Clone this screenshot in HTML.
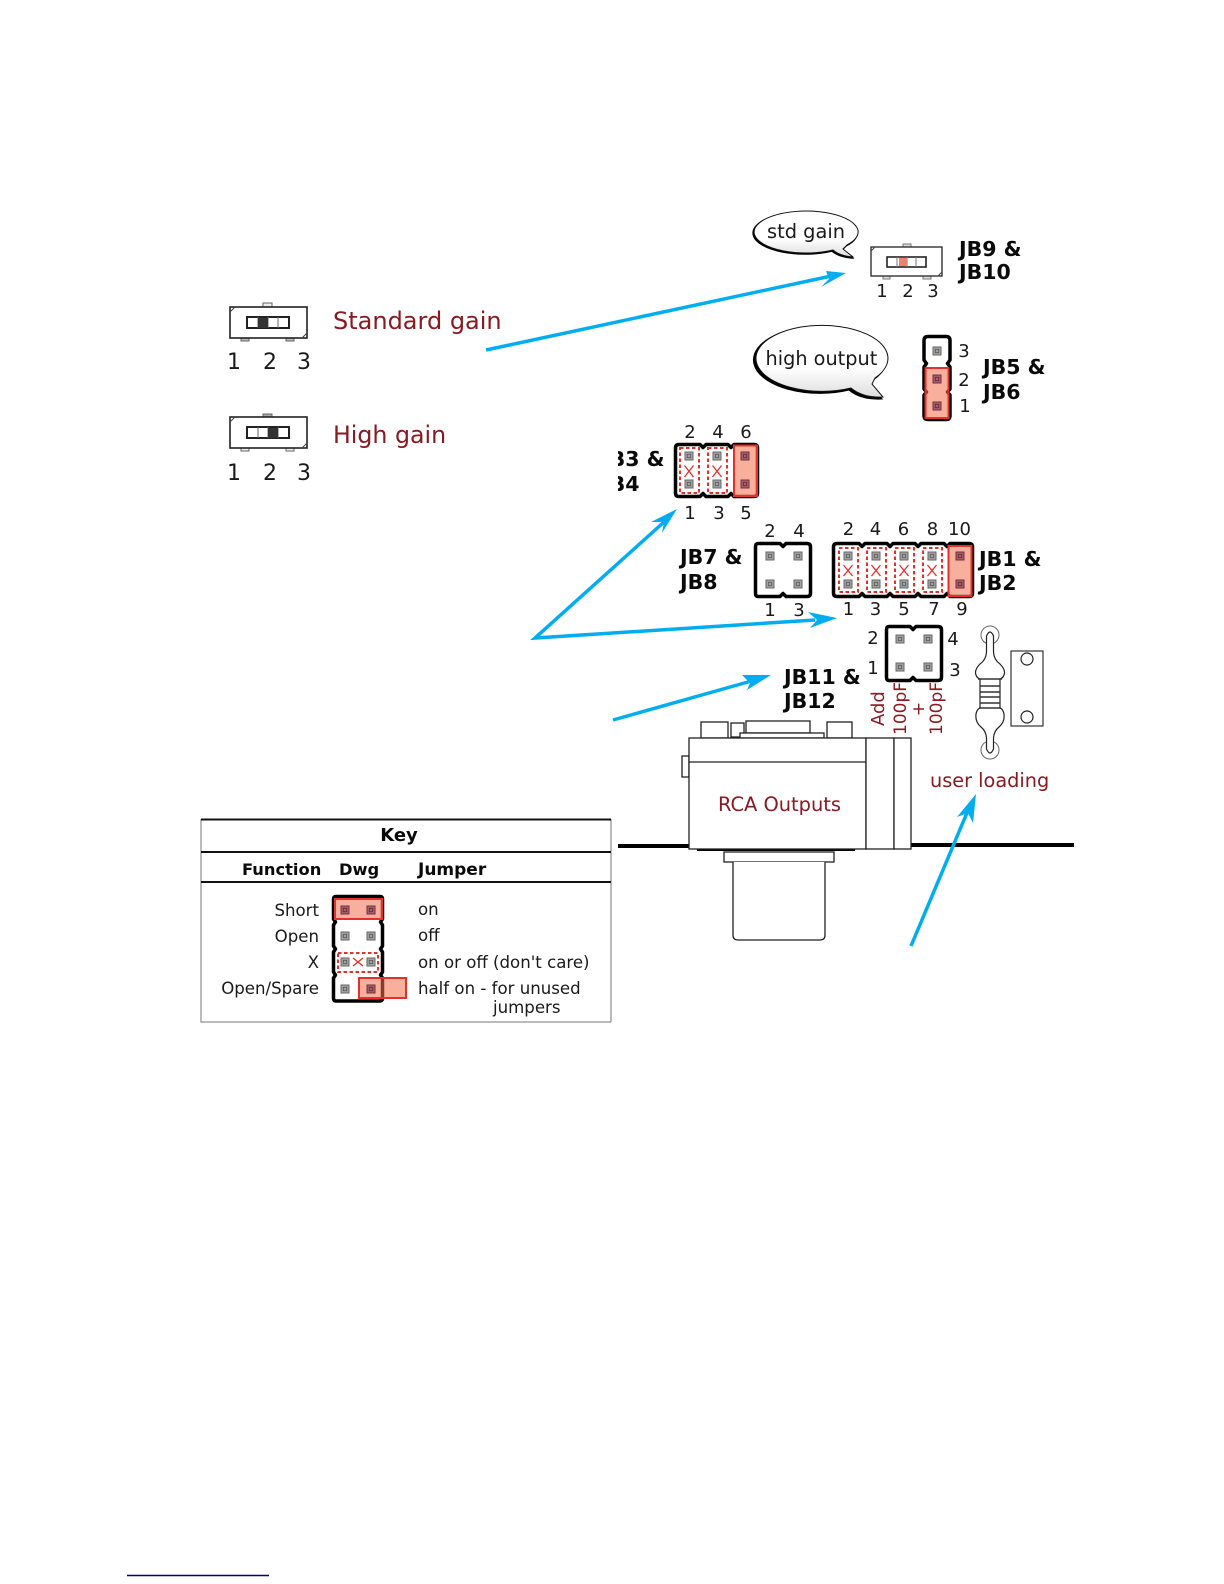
<!DOCTYPE html>
<html><head><meta charset="utf-8"><title>Jumper settings</title>
<style>
html,body{margin:0;padding:0;background:#fff}
svg{display:block}
text{font-family:"DejaVu Sans","Liberation Sans",sans-serif}
.n{font-size:18px;fill:#1a1a1a;text-anchor:middle}
.n2{font-size:22px;fill:#1a1a1a;text-anchor:middle}
.b{font-size:20.5px;font-weight:bold;fill:#0a0a0a}
.r{fill:#8a1a22}
.j{fill:#fff;stroke:#000;stroke-width:3.5;stroke-linejoin:round}
.o{fill:#f2704c;fill-opacity:.55;stroke:#e2302c;stroke-width:2}
.d{fill:none;stroke:#e2302c;stroke-width:2;stroke-dasharray:3.5 2.5}
.x{fill:none;stroke:#e2302c;stroke-width:1.3}
.l{fill:#fff;stroke:#222;stroke-width:1.3}
.a{fill:none;stroke:#00aeef;stroke-width:3.5}
.h{fill:#00aeef}
.k{font-size:16.6px;fill:#1a1a1a}
.kb{font-size:16.3px;font-weight:bold;fill:#0a0a0a}
</style></head><body>
<svg width="1224" height="1584" viewBox="0 0 1224 1584" xmlns="http://www.w3.org/2000/svg">
<defs>
<g id="p"><rect x="-4" y="-4" width="8" height="8" fill="#a4a4a4" stroke="#666" stroke-width="1"/><rect x="-1.7" y="-1.7" width="3.4" height="3.4" fill="none" stroke="#555" stroke-width=".8"/></g>
<g id="q"><rect x="-4" y="-4" width="8" height="8" fill="#a8606a" stroke="#703040" stroke-width="1"/><rect x="-1.7" y="-1.7" width="3.4" height="3.4" fill="none" stroke="#602838" stroke-width=".8"/></g>
<linearGradient id="g" x1="0" y1="0" x2="0" y2="1"><stop offset="0" stop-color="#fff"/><stop offset=".6" stop-color="#fff"/><stop offset="1" stop-color="#ddd"/></linearGradient>
<clipPath id="c"><rect x="618" y="440" width="60" height="60"/></clipPath>
<g id="sw">
<rect x="0" y="0" width="77" height="31" fill="#fff" stroke="#222" stroke-width="1.6"/>
<path d="M0,5 L5,0 M77,26 L72,31" stroke="#444" stroke-width="1"/>
<rect x="17" y="10" width="42" height="11" fill="#fff" stroke="#222" stroke-width="2"/>
<path d="M28,10V21M38,10V21M48,10V21" stroke="#666" stroke-width="1"/>
</g>
</defs>

<!-- left switches -->
<rect x="263" y="303" width="9" height="4" fill="#eee" stroke="#666"/>
<rect x="241" y="338" width="8" height="3" fill="#bbb" stroke="#666"/>
<rect x="286" y="338" width="8" height="3" fill="#bbb" stroke="#666"/>
<use href="#sw" x="230" y="307"/>
<rect x="258" y="318" width="10" height="10" fill="#333"/>
<text class="n2" x="234" y="369">1</text><text class="n2" x="270" y="369">2</text><text class="n2" x="304" y="369">3</text>
<text class="r" x="333" y="329" font-size="24">Standard gain</text>

<rect x="263" y="414" width="9" height="4" fill="#aaa" stroke="#666"/>
<rect x="241" y="448" width="8" height="3" fill="#eee" stroke="#666"/>
<rect x="286" y="448" width="8" height="3" fill="#eee" stroke="#666"/>
<use href="#sw" x="230" y="417"/>
<rect x="268" y="428" width="10" height="10" fill="#333"/>
<text class="n2" x="234" y="480">1</text><text class="n2" x="270" y="480">2</text><text class="n2" x="304" y="480">3</text>
<text class="r" x="333" y="443" font-size="23.7">High gain</text>

<!-- std gain bubble -->
<path d="M833,250A52,21 0 1 1 847,245L843,249L853,257Q840,256 833,250Z" fill="#000" transform="translate(-1,1)" stroke="#000" stroke-width="1.5"/>
<path d="M833,250A52,21 0 1 1 847,245L843,249L853,257Q840,256 833,250Z" fill="url(#g)" stroke="#111" stroke-width="1"/>
<text x="767" y="238" font-size="19.4" fill="#1a1a1a">std gain</text>

<!-- JB9 -->
<rect x="903" y="244" width="8" height="3" fill="#ddd" stroke="#777"/>
<rect x="883" y="276" width="7" height="3" fill="#ddd" stroke="#777"/>
<rect x="923" y="276" width="8" height="3" fill="#ddd" stroke="#777"/>
<rect x="871" y="247" width="71" height="29" fill="#fff" stroke="#222" stroke-width="1.3"/>
<path d="M871,251L875,247M942,272L938,276" stroke="#444" stroke-width="1"/>
<rect x="887" y="257" width="39" height="10" fill="#fff" stroke="#222" stroke-width="1.6"/>
<path d="M897,257V267M907,257V267M916,257V267" stroke="#777" stroke-width="1"/>
<rect x="899" y="258" width="8" height="8" fill="#f2806c"/>
<text class="n" x="882" y="297">1</text><text class="n" x="908" y="297">2</text><text class="n" x="933" y="297">3</text>
<text class="b" x="959" y="256">JB9 &amp;</text><text class="b" x="959" y="279">JB10</text>

<!-- high output bubble -->
<path d="M851,388A66,33 0 1 1 875,378L872,384L883,397Q863,398 851,388Z" fill="#000" stroke="#000" stroke-width="2" transform="translate(-2,1.5)"/>
<path d="M851,388A66,33 0 1 1 875,378L872,384L883,397Q863,398 851,388Z" fill="url(#g)" stroke="#111" stroke-width="1"/>
<text x="765.5" y="365" font-size="19.3" fill="#1a1a1a">high output</text>

<!-- JB5 -->
<path class="j" d="M928,336.500H946Q950,336.500 950,340.500V360L947.500,363.500L950,367V389L947.500,392L950,395V415.500Q950,419.500 946,419.500H928Q924,419.500 924,415.500V395L926.500,392L924,389V367L926.500,363.500L924,360V340.500Q924,336.500 928,336.500Z"/>
<rect class="o" x="925.500" y="368" width="23" height="50"/>
<use href="#p" x="937" y="351"/><use href="#q" x="937" y="379"/><use href="#q" x="937" y="406"/>
<text class="n" x="964" y="357">3</text><text class="n" x="964" y="386">2</text><text class="n" x="965" y="412">1</text>
<text class="b" x="983" y="374">JB5 &amp;</text><text class="b" x="983" y="399">JB6</text>

<!-- JB3 -->
<g clip-path="url(#c)"><text class="b" x="602" y="466">JB3 &amp;</text><text class="b" x="602" y="491">JB4</text></g>
<path class="j" d="M679,444.500H700L703,447.500L706,444.500H728L731,447.500L734,444.500H754Q757.500,444.500 757.500,448V493Q757.500,496.500 754,496.500H734L731,493.500L728,496.500H706L703,493.500L700,496.500H679Q675.500,496.500 675.500,493V448Q675.500,444.500 679,444.500Z"/>
<use href="#p" x="689" y="456"/><use href="#p" x="689" y="484"/><use href="#p" x="717" y="456"/><use href="#p" x="717" y="484"/>
<rect class="d" x="680" y="448" width="19" height="45"/><rect class="d" x="708" y="448" width="19" height="45"/>
<path class="x" d="M684.500,465.500L693.500,477M693.500,465.500L684.500,477M712.500,465.500L721.500,477M721.500,465.500L712.500,477"/>
<rect class="o" x="734" y="445.500" width="23" height="50.500"/>
<use href="#q" x="745" y="456"/><use href="#q" x="745" y="484"/>
<text class="n" x="690" y="438">2</text><text class="n" x="718" y="438">4</text><text class="n" x="746" y="438">6</text>
<text class="n" x="690" y="519">1</text><text class="n" x="719" y="519">3</text><text class="n" x="746" y="519">5</text>

<!-- JB7 -->
<path class="j" d="M758,543.500H780L783,546.500L786,543.500H807Q810.500,543.500 810.500,547V593Q810.500,596.500 807,596.500H786L783,593.500L780,596.500H758Q755.500,596.500 755.500,593V547Q755.500,543.500 758,543.500Z"/>
<use href="#p" x="770" y="556"/><use href="#p" x="770" y="584"/><use href="#p" x="798" y="556"/><use href="#p" x="798" y="584"/>
<text class="n" x="770" y="537">2</text><text class="n" x="799" y="537">4</text><text class="n" x="770" y="616">1</text><text class="n" x="799" y="616">3</text>
<text class="b" x="680" y="564">JB7 &amp;</text><text class="b" x="680" y="589">JB8</text>

<!-- JB1 -->
<path class="j" d="M837,543.500H859L862,546.500L865,543.500H887L890,546.500L893,543.500H915L918,546.500L921,543.500H944L947,546.500L950,543.500H969Q972.500,543.500 972.500,547V593Q972.500,596.500 969,596.500H950L947,593.500L944,596.500H921L918,593.500L915,596.500H893L890,593.500L887,596.500H865L862,593.500L859,596.500H837Q833.500,596.500 833.500,593V547Q833.500,543.500 837,543.500Z"/>
<use href="#p" x="848" y="556"/><use href="#p" x="848" y="584"/><use href="#p" x="876" y="556"/><use href="#p" x="876" y="584"/><use href="#p" x="904" y="556"/><use href="#p" x="904" y="584"/><use href="#p" x="932" y="556"/><use href="#p" x="932" y="584"/>
<rect class="d" x="839" y="548" width="19" height="44"/><rect class="d" x="867" y="548" width="19" height="44"/><rect class="d" x="895" y="548" width="19" height="44"/><rect class="d" x="923" y="548" width="19" height="44"/>
<path class="x" d="M843.500,565L852.500,576M852.500,565L843.500,576M871.500,565L880.500,576M880.500,565L871.500,576M899.500,565L908.500,576M908.500,565L899.500,576M927.500,565L936.500,576M936.500,565L927.500,576"/>
<rect class="o" x="948.500" y="546" width="23" height="50"/>
<use href="#q" x="960" y="556"/><use href="#q" x="960" y="584"/>
<text class="n" x="848.500" y="535">2</text><text class="n" x="875.500" y="535">4</text><text class="n" x="903.500" y="535">6</text><text class="n" x="932.500" y="535">8</text><text class="n" x="959.500" y="535">10</text>
<text class="n" x="848.500" y="615">1</text><text class="n" x="875.500" y="615">3</text><text class="n" x="904" y="615">5</text><text class="n" x="934" y="615">7</text><text class="n" x="962" y="615">9</text>
<text class="b" x="979" y="566">JB1 &amp;</text><text class="b" x="979" y="590">JB2</text>

<!-- JB11 -->
<path class="j" d="M889,626.500H910L913,629.500L916,626.500H938Q941.500,626.500 941.500,630V677Q941.500,680.500 938,680.500H916L913,677.500L910,680.500H889Q886.500,680.500 886.500,677V630Q886.500,626.500 889,626.500Z"/>
<use href="#p" x="900" y="639"/><use href="#p" x="900" y="667"/><use href="#p" x="928" y="639"/><use href="#p" x="928" y="667"/>
<text class="n" x="873" y="644">2</text><text class="n" x="873" y="674">1</text><text class="n" x="953" y="645">4</text><text class="n" x="955" y="676">3</text>
<text class="b" x="784" y="684">JB11 &amp;</text><text class="b" x="784" y="708">JB12</text>
<text class="r" font-size="18" transform="translate(884,726) rotate(-90)">Add</text>
<text class="r" font-size="17" transform="translate(906,735) rotate(-90)">100pF</text>
<text class="r" font-size="17" transform="translate(924,709) rotate(-90)" text-anchor="middle">+</text>
<text class="r" font-size="17" transform="translate(942,735) rotate(-90)">100pF</text>

<!-- resistor -->
<circle cx="990" cy="635" r="9" fill="#fff" stroke="#666" stroke-width="1"/>
<circle cx="990" cy="750" r="9" fill="#fff" stroke="#666" stroke-width="1"/>
<path d="M986.500,636Q990,628 993.500,636V652Q994,660 1000,664Q1006,670 1004,675Q1003,678 1000,679V708Q1003,709 1004,714Q1005,722 999,727Q994,731 993.500,738V749Q990,757 986.500,749V738Q986,731 981,727Q975,722 976,714Q977,709 980,708V679Q977,678 976,675Q974,670 980,664Q986,660 986.500,652Z" fill="#fff" stroke="#222" stroke-width="1.200"/>
<path d="M978,679H1002M980,686H1000M980,692H1000M980,697H1000M980,703H1000M979,708H1001" stroke="#333" stroke-width="1.400"/>
<rect x="1011" y="651" width="32" height="75" fill="#fff" stroke="#333" stroke-width="1.200"/>
<circle cx="1027" cy="659" r="6" fill="#fff" stroke="#222" stroke-width="1.200"/>
<circle cx="1027" cy="717" r="6" fill="#fff" stroke="#222" stroke-width="1.200"/>
<text class="r" x="930" y="787" font-size="19.3">user loading</text>

<!-- board + RCA -->
<path d="M618,846H689M911,845H1074" stroke="#000" stroke-width="4"/>
<path d="M697,850H855" stroke="#000" stroke-width="2"/>
<rect class="l" x="701" y="722" width="27" height="16"/>
<rect class="l" x="827" y="722" width="25" height="16"/>
<rect class="l" x="746" y="721" width="64" height="12"/>
<rect class="l" x="731" y="723" width="13" height="14"/>
<rect class="l" x="740" y="733" width="84" height="5"/>
<rect class="l" x="682" y="756" width="7" height="21"/>
<rect class="l" x="689" y="738" width="177" height="111"/>
<path d="M689,762H866" stroke="#222" stroke-width="1.300"/>
<rect class="l" x="866" y="738" width="28" height="111"/>
<rect class="l" x="894" y="738" width="17" height="111"/>
<rect class="l" x="724" y="852" width="110" height="10"/>
<path class="l" d="M733,862V935Q733,940 738,940H820Q825,940 825,935V862"/>
<text class="r" x="718" y="811" font-size="19.4">RCA Outputs</text>

<!-- arrows -->
<path class="a" d="M486,350L836,275"/>
<polygon class="h" points="846,273 826,271 829,279 821,287"/>
<path class="a" d="M664,522L535,638L815,620"/>
<polygon class="h" points="677,509 651,522 664,522 662,533"/>
<polygon class="h" points="837,618 808,612 817,620 810,628"/>
<path class="a" d="M613,720L755,680"/>
<polygon class="h" points="771,675 742,675 750,683 747,690"/>
<path class="a" d="M911,946L969,808"/>
<polygon class="h" points="976,794 957,817 968,813 973,823"/>

<!-- key -->
<path d="M201,819V1022H611M611,1022V819" fill="none" stroke="#777" stroke-width="1"/>
<path d="M201,819.500H611M201,852H611M201,882H611" stroke="#111" stroke-width="2"/>
<text x="399" y="841" font-size="18" font-weight="bold" fill="#0a0a0a" text-anchor="middle">Key</text>
<text class="kb" x="242" y="875">Function</text><text class="kb" x="339" y="875">Dwg</text><text class="kb" x="418" y="875" style="font-size:17px">Jumper</text>
<g text-anchor="end"><text class="k" x="319" y="916">Short</text><text class="k" x="319" y="942">Open</text><text class="k" x="319" y="968">X</text><text class="k" x="319" y="994">Open/Spare</text></g>
<text class="k" x="418" y="915">on</text><text class="k" x="418" y="941">off</text><text class="k" x="418" y="968">on or off (don't care)</text><text class="k" x="418" y="994">half on - for unused</text><text class="k" x="493" y="1013">jumpers</text>
<path class="j" d="M336,896.500H380Q382.500,896.500 382.500,899V919L380.500,922L382.500,925V946L380.500,949L382.500,952V972L380.500,975L382.500,978V998Q382.500,1001 380,1001H336Q333.500,1001 333.500,998V978L335.500,975L333.500,972V952L335.500,949L333.500,946V925L335.500,922L333.500,919V899Q333.500,896.500 336,896.500Z"/>
<rect class="o" x="335" y="899" width="47" height="20"/>
<use href="#q" x="345" y="910"/><use href="#q" x="371" y="910"/><use href="#p" x="345" y="936"/><use href="#p" x="371" y="936"/><use href="#p" x="345" y="962"/><use href="#p" x="371" y="962"/><use href="#p" x="345" y="989"/>
<rect class="d" x="338" y="953" width="40" height="19"/>
<path class="x" d="M353,958L363,966M363,958L353,966"/>
<rect class="o" x="359" y="978" width="47" height="20"/>
<use href="#q" x="371" y="989"/>

<!-- footnote rule -->
<path d="M127,1575.500H269" stroke="#000080" stroke-width="1.500"/>
</svg>
</body></html>
